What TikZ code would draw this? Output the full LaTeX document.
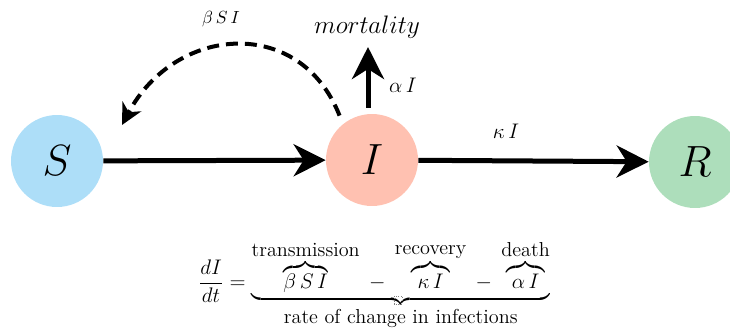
\documentclass[tikz,border=0pt]{standalone}
\usepackage{amsmath}
\usetikzlibrary{arrows.meta}

\definecolor{suscblue}{RGB}{173,222,248}
\definecolor{infsalmon}{RGB}{255,193,177}
\definecolor{recgreen}{RGB}{173,222,187}

\begin{document}
\begin{tikzpicture}[x=0.02cm, y=-0.02cm,
    compartment/.style={circle, minimum size=1.84cm, inner sep=0pt,
      font=\fontsize{30}{33}\selectfont},
    flow/.style={line width=0.1cm,
      -{Stealth[length=0.64cm, width=0.64cm, inset=0.2cm]}},
    contact/.style={line width=0.08cm, dash pattern=on 0.24cm off 0.14cm,
      -{Stealth[length=0.42cm, width=0.42cm, inset=0.13cm]}},
    rate/.style={font=\fontsize{11.5}{14}\selectfont}]
        \useasboundingbox (0, 0) rectangle (730, 332);

        % compartments
        \node [compartment, fill=suscblue] (S) at (57, 161) {$S$};
        \node [compartment, fill=infsalmon] (I) at (372, 160) {$I$};
        \node [compartment, fill=recgreen] (R) at (695, 162) {$R$};

        % flows between compartments
        \draw [flow] (S) -- (I);
        \draw [flow] (I) -- (R);
        \node [font=\fontsize{12}{14}\selectfont] (kappa) at (506, 131) {$\kappa\,I$};

        % deaths
        \coordinate (morttip) at (368, 47);
        \node [font=\fontsize{15}{17}\selectfont] (mort) at (367, 27) {$mortality$};
        \draw [flow, shorten <=0.12cm] (I.north -| morttip) -- (morttip);
        \node [font=\fontsize{13}{15}\selectfont] (alpha) at (403, 85) {$\alpha\,I$};

        % infection feedback
        \coordinate (betatip) at (122, 125);
        \draw [contact, shorten <=0.18cm] (I.129) .. controls (300, 15) and (175, 25) .. (betatip);
        \node [font=\fontsize{10}{12}\selectfont] (beta) at (221, 19) {$\beta\,S\,I$};

        % equation
        \node [rate] (eqn) at (374, 285) {$\displaystyle \frac{dI}{dt} =
          \underbrace{\overbrace{\beta\,S\,I}^{\mbox{transmission}} \;-\;
          \overbrace{\kappa\,I}^{\mbox{recovery}} \;-\;
          \overbrace{\alpha\,I}^{\mbox{death}}}_{\mbox{rate of change in infections}}$};
        \draw [densely dotted, gray, thin] (394, 296) rectangle (402, 304);
\end{tikzpicture}
\end{document}
